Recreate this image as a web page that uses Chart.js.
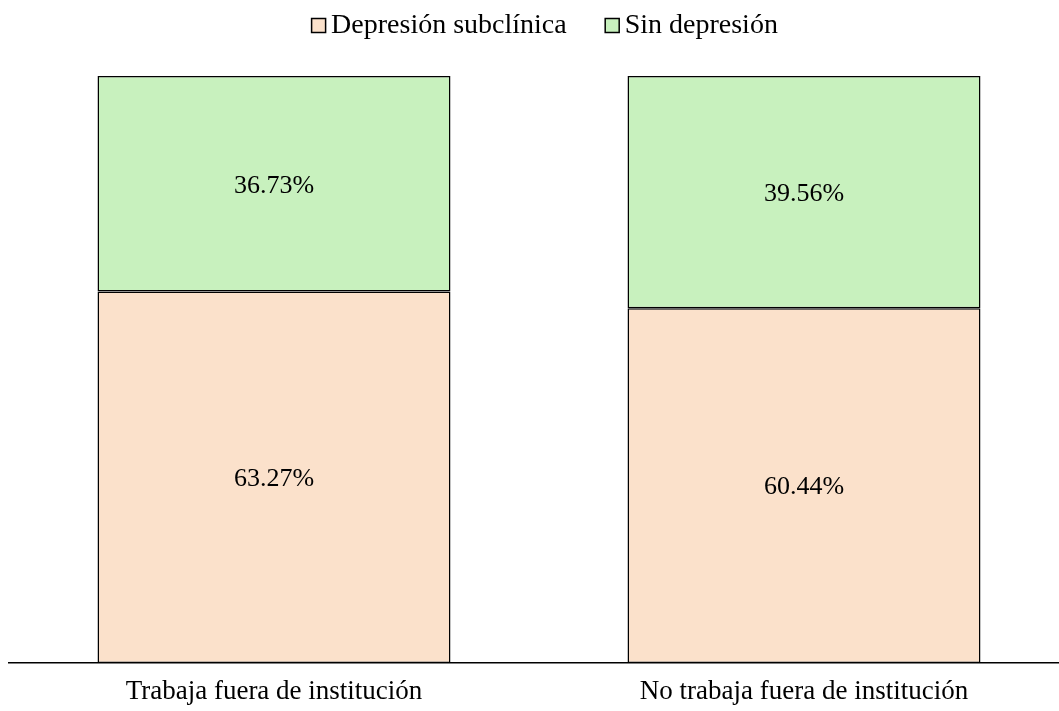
<!DOCTYPE html>
<html>
<head>
<meta charset="utf-8">
<script src="https://cdn.jsdelivr.net/npm/chart.js@4.4.0/dist/chart.umd.min.js"></script>
<style>
html,body{margin:0;padding:0;background:#fff;overflow:hidden;}
#wrap{width:1059px;height:711px;overflow:hidden;position:relative;}
canvas{display:block;}
</style>
</head>
<body>
<div id="wrap"><canvas id="c" width="1070" height="711"></canvas></div>
<script>
const categories = ["Trabaja fuera de institución", "No trabaja fuera de institución"];
const subclinica = [63.27, 60.44];
const sinDepresion = [36.73, 39.56];
const seriesNames = ["Depresión subclínica", "Sin depresión"];

const FONT = "'Liberation Serif', 'Times New Roman', serif";

const valueLabels = {
  id: 'valueLabels',
  afterDatasetsDraw(chart) {
    const ctx = chart.ctx;
    ctx.save();
    ctx.font = "26px " + FONT;
    ctx.fillStyle = "#000";
    ctx.textAlign = "center";
    ctx.textBaseline = "middle";
    chart.data.datasets.forEach((ds, i) => {
      const meta = chart.getDatasetMeta(i);
      meta.data.forEach((bar, j) => {
        const y = (bar.y + bar.base) / 2 + 2;
        ctx.fillText(ds.data[j].toFixed(2) + "%", bar.x, y);
      });
    });
    ctx.restore();
  }
};

const customLegend = {
  id: 'customLegend',
  afterDraw(chart) {
    const ctx = chart.ctx;
    ctx.save();
    ctx.font = "28px " + FONT;
    const box = 14, gapText = 5, gapItem = 39;
    const items = chart.data.datasets.map(ds => ({ text: ds.label, color: ds.backgroundColor, w: ctx.measureText(ds.label).width }));
    let total = 0;
    items.forEach((it, i) => { total += box + gapText + it.w + (i < items.length - 1 ? gapItem : 0); });
    let x = 544 - total / 2;
    const baseline = 33;
    items.forEach(it => {
      ctx.fillStyle = it.color;
      ctx.fillRect(x + 0.5, 18.5, box, box);
      ctx.strokeStyle = '#000';
      ctx.lineWidth = 1.5;
      ctx.strokeRect(x + 0.5, 18.5, box, box);
      ctx.fillStyle = '#000';
      ctx.textBaseline = 'alphabetic';
      ctx.textAlign = 'left';
      ctx.fillText(it.text, x + box + gapText + 1, baseline);
      x += box + gapText + it.w + gapItem;
    });
    ctx.restore();
  }
};

new Chart(document.getElementById('c'), {
  type: 'bar',
  data: {
    labels: categories,
    datasets: [
      { label: seriesNames[0], data: subclinica, backgroundColor: '#FBE1CB', borderColor: '#000', borderWidth: 1.5, borderSkipped: false },
      { label: seriesNames[1], data: sinDepresion, backgroundColor: '#C8F1BE', borderColor: '#000', borderWidth: 1.5, borderSkipped: false }
    ]
  },
  options: {
    responsive: false,
    animation: false,
    devicePixelRatio: 1,
    layout: { padding: { left: 9, right: 1, top: 76, bottom: 0 } },
    datasets: { bar: { categoryPercentage: 0.666, barPercentage: 1 } },
    plugins: {
      legend: { display: false },
      tooltip: { enabled: false }
    },
    scales: {
      x: {
        stacked: true,
        grid: { display: false, drawTicks: false },
        border: { display: true, color: '#000', width: 1.5 },
        ticks: { font: { family: FONT, size: 27 }, color: '#000', padding: 13 },
        afterFit: (axis) => { axis.height = 48; }
      },
      y: {
        stacked: true,
        display: false,
        min: 0,
        max: 100
      }
    }
  },
  plugins: [valueLabels, customLegend]
});
</script>
</body>
</html>
